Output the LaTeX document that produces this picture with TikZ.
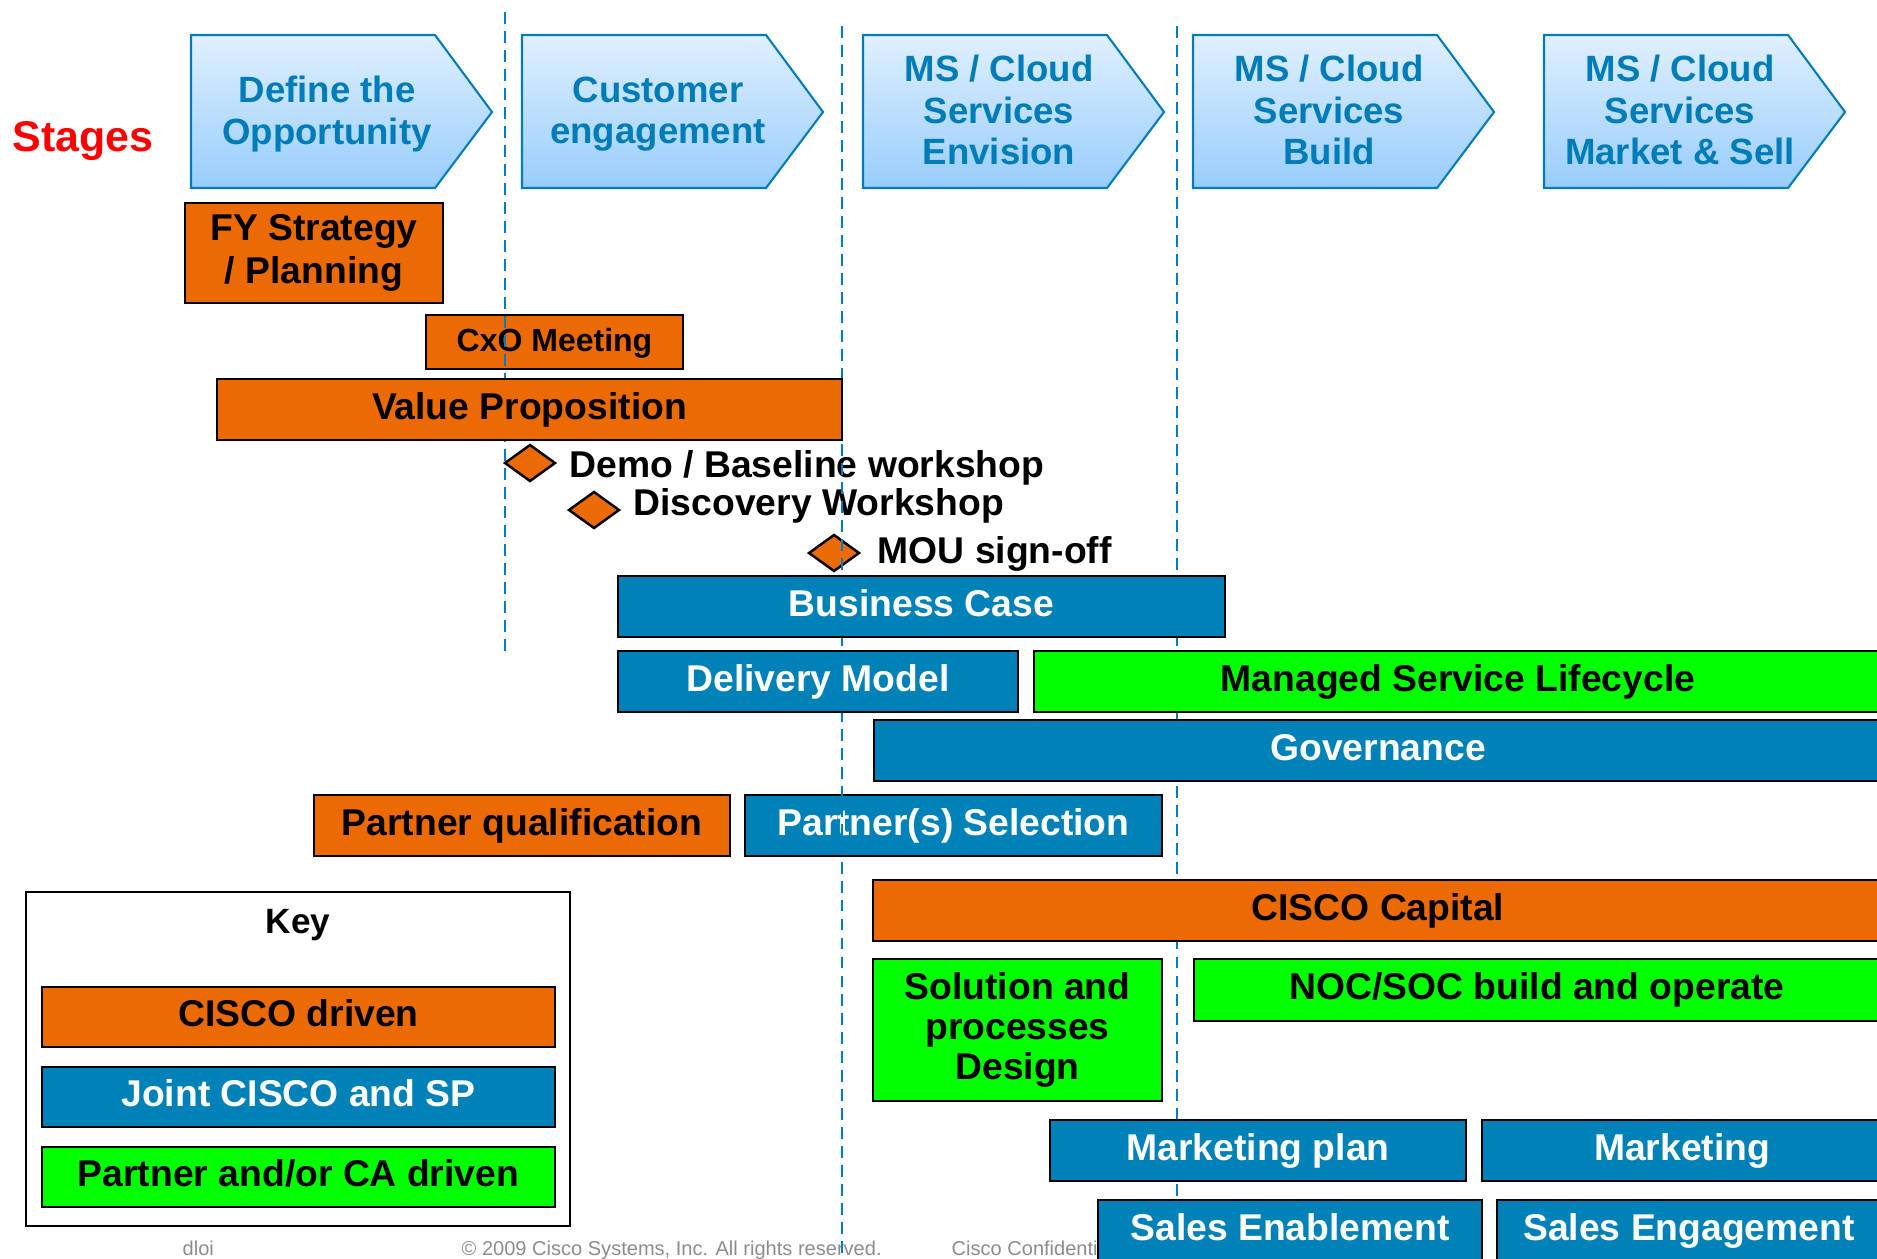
\documentclass[tikz,border=0pt]{standalone}
\usepackage{fontspec}
\setmainfont{Liberation Sans}
\usepackage{xcolor}
\usepackage{tikz}
\usetikzlibrary{shapes.geometric}
\usetikzlibrary{positioning}

\definecolor{ciscoOrange}{RGB}{236,106,4}
\definecolor{jointBlue}{RGB}{0,130,184}
\definecolor{partnerGreen}{RGB}{0,255,0}
\definecolor{stageEdge}{RGB}{0,125,185}
\definecolor{stageTop}{RGB}{224,240,255}
\definecolor{stageBot}{RGB}{152,205,250}
\definecolor{guideBlue}{RGB}{0,125,190}
\definecolor{footGray}{RGB}{140,140,140}

\tikzset{
	dims/.style 2 args={minimum width=#1*0.01cm,minimum height=#2*0.01cm},
	bar/.style={draw=black,line width=0.8pt,inner sep=0pt,
		font=\fontsize{10.6}{12.5}\selectfont\bfseries,text height=.75em,text depth=.2em},
	cisco/.style={bar,fill=ciscoOrange,text=black},
	joint/.style={bar,fill=jointBlue,text=white},
	partner/.style={bar,fill=partnerGreen,text=black},
	multi/.style={align=center,text height={},text depth={}},
	stage/.style={top color=stageTop,bottom color=stageBot,draw=stageEdge,line width=0.6pt},
	stagetext/.style={align=center,text=stageEdge,inner sep=0pt,
		font=\fontsize{10.4}{11.7}\selectfont\bfseries},
	milestone/.style={diamond,draw=black,fill=ciscoOrange,line width=0.7pt,inner sep=0pt,
		minimum width=0.51cm,minimum height=0.37cm},
	mlabel/.style={anchor=base west,inner sep=0pt,font=\fontsize{10.6}{12}\selectfont\bfseries},
	guide/.style={draw=guideBlue,line width=0.55pt,dash pattern=on 3.4pt off 2pt},
	foot/.style={anchor=base west,inner sep=0pt,text=footGray,font=\fontsize{5.7}{6.5}\selectfont}
}

\begin{document}
\begin{tikzpicture}[x=0.01cm,y=-0.01cm]
	\useasboundingbox (0,0) rectangle (1877,1258);
	\clip (0,0) rectangle (1877,1258);
	% stages
	\node[anchor=base west,inner sep=0pt,text=red,font=\fontsize{12.2}{14}\selectfont\bfseries] (stages) at (12,152) {Stages};
	\foreach \l/\ty/\n/\txt in {191/114/1/{Define the\\Opportunity},522/114/2/{Customer\\engagement},
		863/110/3/{MS / Cloud\\Services\\Envision},1193/110/4/{MS / Cloud\\Services\\Build},
		1544/110/5/{MS / Cloud\\Services\\Market \& Sell}}{
		\path[stage] (\l,35) -- ++(244,0) -- ++(57,77) -- ++(-57,76) -- ++(-244,0) -- cycle;
		\node[stagetext] (st\n) at (\l+136,\ty) {\txt};
	}
	% items under the guide lines
	\node[cisco,multi,font=\fontsize{10.6}{12}\selectfont\bfseries,dims={258}{100}] (fy) at (314,253) {FY Strategy\\/ Planning};
	\node[cisco,font=\fontsize{9.1}{11}\selectfont\bfseries,dims={257}{54}] (cxo) at (554.5,342) {CxO Meeting};
	\node[milestone] (demo) at (530,463) {};
	\node[mlabel] (demotxt) at (569,477) {Demo / Baseline workshop};
	\node[milestone] (disc) at (594,510) {};
	\node[mlabel] (disctxt) at (633,515) {Discovery Workshop};
	\node[milestone] (mou) at (834,553) {};
	\node[mlabel] (moutxt) at (877,563) {MOU sign-off};
	\node[cisco,dims={416}{61}] (pq) at (522,825.5) {Partner qualification};
	\node[joint,dims={417}{61}] (psel) at (953.5,825.5) {Partner(s) Selection};
	% key
	\node[draw=black,fill=white,line width=0.8pt,inner sep=0pt,dims={544}{334}] (keybox) at (298,1059) {};
	\node[anchor=base,inner sep=0pt,font=\fontsize{10}{12}\selectfont\bfseries] (keytxt) at (298,933) {Key};
	\node[cisco,dims={513}{60}] (k1) at (298.5,1017) {CISCO driven};
	\node[joint,dims={513}{60}] (k2) at (298.5,1097) {Joint CISCO and SP};
	\node[partner,dims={513}{60}] (k3) at (298.5,1177) {Partner and/or CA driven};
	% footer
	\node[foot] (f1) at (182,1255) {dloi};
	\node[foot] (f2) at (461,1255) {\textcopyright{} 2009 Cisco Systems, Inc. All rights reserved.};
	\node[foot] (f3) at (951,1255) {Cisco Confidential};
	% guide lines
	\coordinate (g1a) at (505,12);
	\coordinate (g1b) at (505,652);
	\coordinate (g2a) at (842,26);
	\coordinate (g2b) at (842,1260);
	\coordinate (g3a) at (1177,26);
	\coordinate (g3b) at (1177,1260);
	\draw[guide] (g1a) -- (g1b);
	\draw[guide] (g2a) -- (g2b);
	\draw[guide] (g3a) -- (g3b);
	% items over the guide lines
	\node[cisco,dims={625}{61}] (vp) at (529.5,409.5) {Value Proposition};
	\node[joint,dims={607}{61}] (bc) at (921.5,606.5) {Business Case};
	\node[joint,dims={400}{61}] (dm) at (818,681.5) {Delivery Model};
	\node[partner,dims={848}{61}] (msl) at (1458,681.5) {Managed Service Lifecycle};
	\node[joint,dims={1008}{61}] (gov) at (1378,750.5) {Governance};
	\node[cisco,dims={1010}{61}] (cap) at (1378,910.5) {CISCO Capital};
	\node[partner,multi,font=\fontsize{10.6}{11.4}\selectfont\bfseries,dims={289}{142}] (sol) at (1017.5,1030) {Solution and\\processes\\Design};
	\node[partner,dims={686}{62}] (noc) at (1537,990) {NOC/SOC build and operate};
	\node[joint,dims={416}{61}] (mplan) at (1258,1150.5) {Marketing plan};
	\node[joint,dims={400}{61}] (mkt) at (1682,1150.5) {Marketing};
	\node[joint,dims={384}{61}] (senable) at (1290,1230.5) {Sales Enablement};
	\node[joint,dims={384}{61}] (sengage) at (1689,1230.5) {Sales Engagement};
\end{tikzpicture}
\end{document}
